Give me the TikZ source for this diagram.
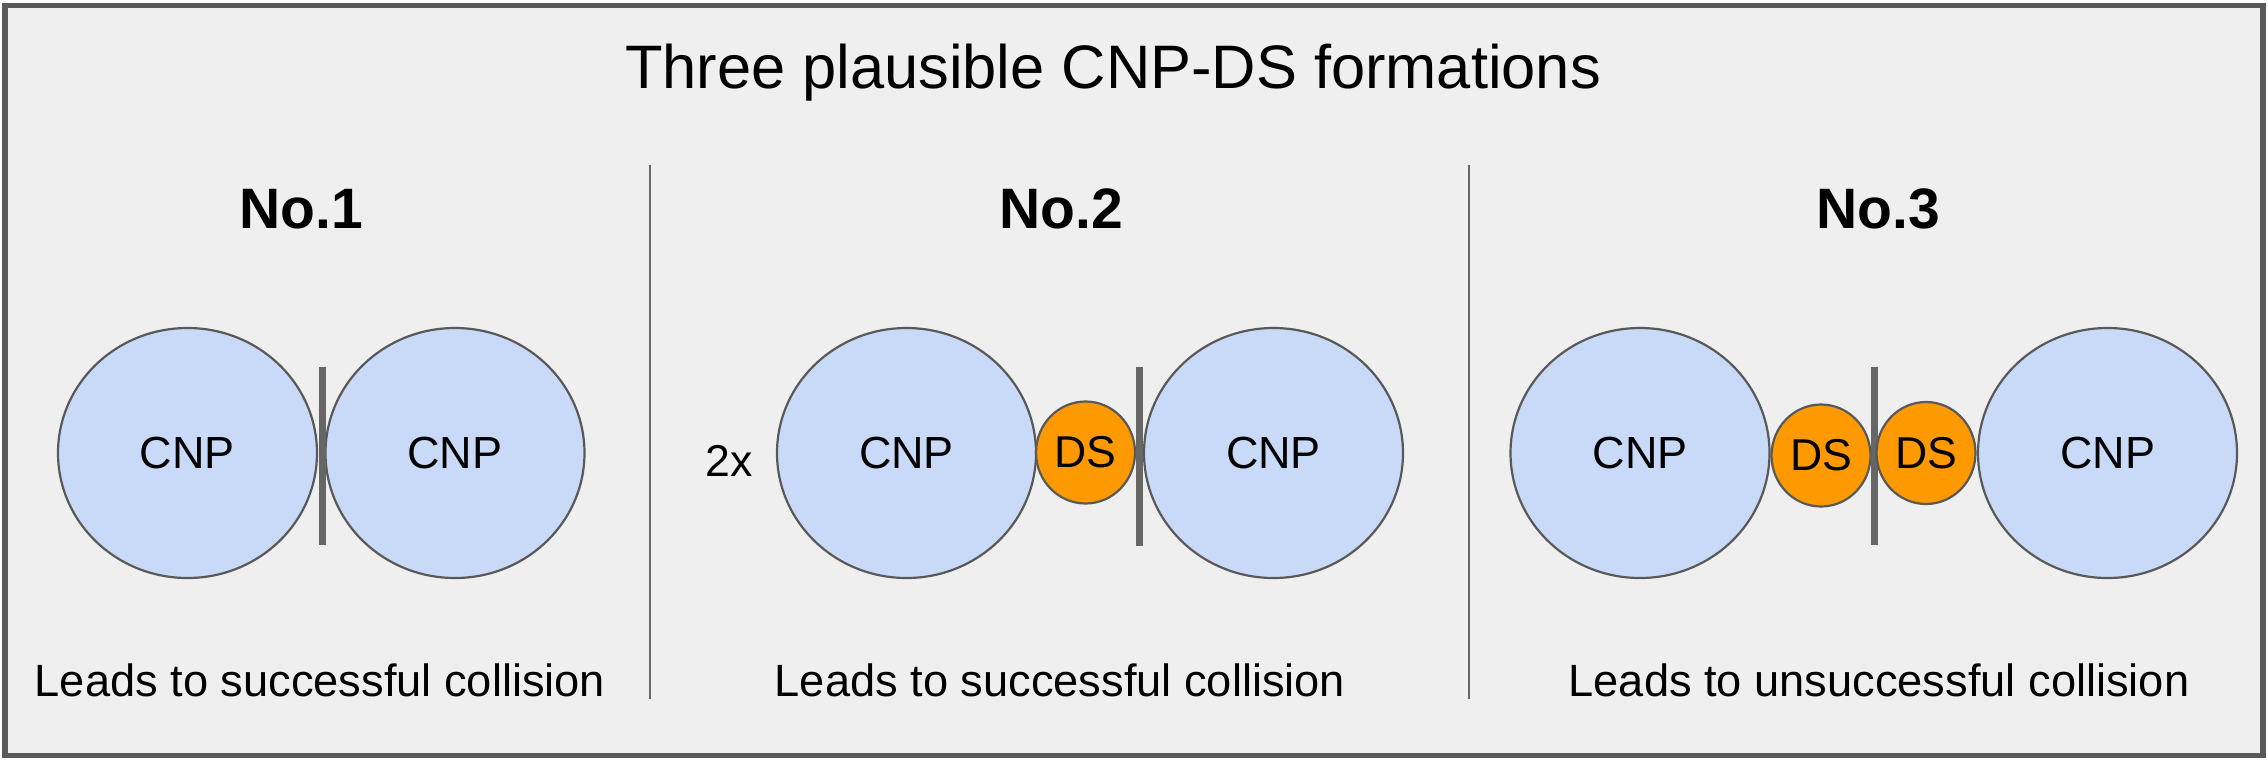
\documentclass[tikz,border=0pt]{standalone}
\usepackage{fontspec}
\setmainfont{Liberation Sans}
\usetikzlibrary{shapes.geometric}
\definecolor{bgc}{HTML}{EFEFEF}
\definecolor{framec}{HTML}{595959}
\definecolor{cnpc}{HTML}{C9DAF8}
\definecolor{dsc}{HTML}{FF9900}
\definecolor{linec}{HTML}{666666}
\tikzset{
  frame/.style={draw=framec, line width=2.8pt, fill=bgc},
  divider/.style={draw=linec, line width=1pt},
  barline/.style={draw=linec, line width=3.5pt},
  cnp/.style={ellipse, draw=framec, line width=1.1pt, fill=cnpc, inner sep=0pt,
    minimum width=129.5pt, minimum height=125pt, font=\fontsize{22.5}{26}\selectfont},
  ds/.style={ellipse, draw=framec, line width=1.1pt, fill=dsc, inner sep=0pt,
    minimum width=49.5pt, minimum height=51pt, font=\fontsize{22.3}{26}\selectfont},
  body/.style={inner sep=0pt, font=\fontsize{22.3}{26}\selectfont},
  caption/.style={inner sep=0pt, font=\fontsize{22.6}{26}\selectfont},
  heading/.style={inner sep=0pt, font=\bfseries\fontsize{28.5}{33}\selectfont},
  titletext/.style={inner sep=0pt, font=\fontsize{30.7}{36}\selectfont}
}
\begin{document}
\begin{tikzpicture}[x=0.5pt, y=-0.5pt]
\useasboundingbox (0,0) rectangle (2268,761);
\fill[white] (0,0) rectangle (2268,761);
\draw[frame] (5,5.5) rectangle (2263,755.5);

\node[titletext] (title) at (1113,73) {Three plausible CNP-DS formations};

\draw[divider] (650,165) -- (650,699);
\draw[divider] (1469,165) -- (1469,699);

% No.1
\node[heading] (h1) at (301,209) {No.1};
\node[cnp] (a1) at (187.5,453) {CNP};
\node[cnp] (a2) at (455,453) {CNP};
\draw[barline] (322,367) -- (322,545);
\node[caption] (c1) at (320,680) {Leads to successful collision};

% No.2
\node[heading] (h2) at (1061,209) {No.2};
\node[body] (twox) at (729.5,461) {2x};
\node[cnp] (b1) at (906.5,453) {CNP};
\node[ds] (bd) at (1085.5,452.5) {DS};
\draw[barline] (1139,367) -- (1139,546);
\node[cnp] (b2) at (1273.5,453) {CNP};
\node[caption] (c2) at (1060,680) {Leads to successful collision};

% No.3
\node[heading] (h3) at (1878,209) {No.3};
\node[cnp] (d1) at (1640,453) {CNP};
\node[ds] (dd1) at (1821,455.5) {DS};
\draw[barline] (1874,367) -- (1874,545);
\node[ds] (dd2) at (1926,453) {DS};
\node[cnp] (d2) at (2107.5,453) {CNP};
\node[caption] (c3) at (1879,680) {Leads to unsuccessful collision};
\end{tikzpicture}
\end{document}
